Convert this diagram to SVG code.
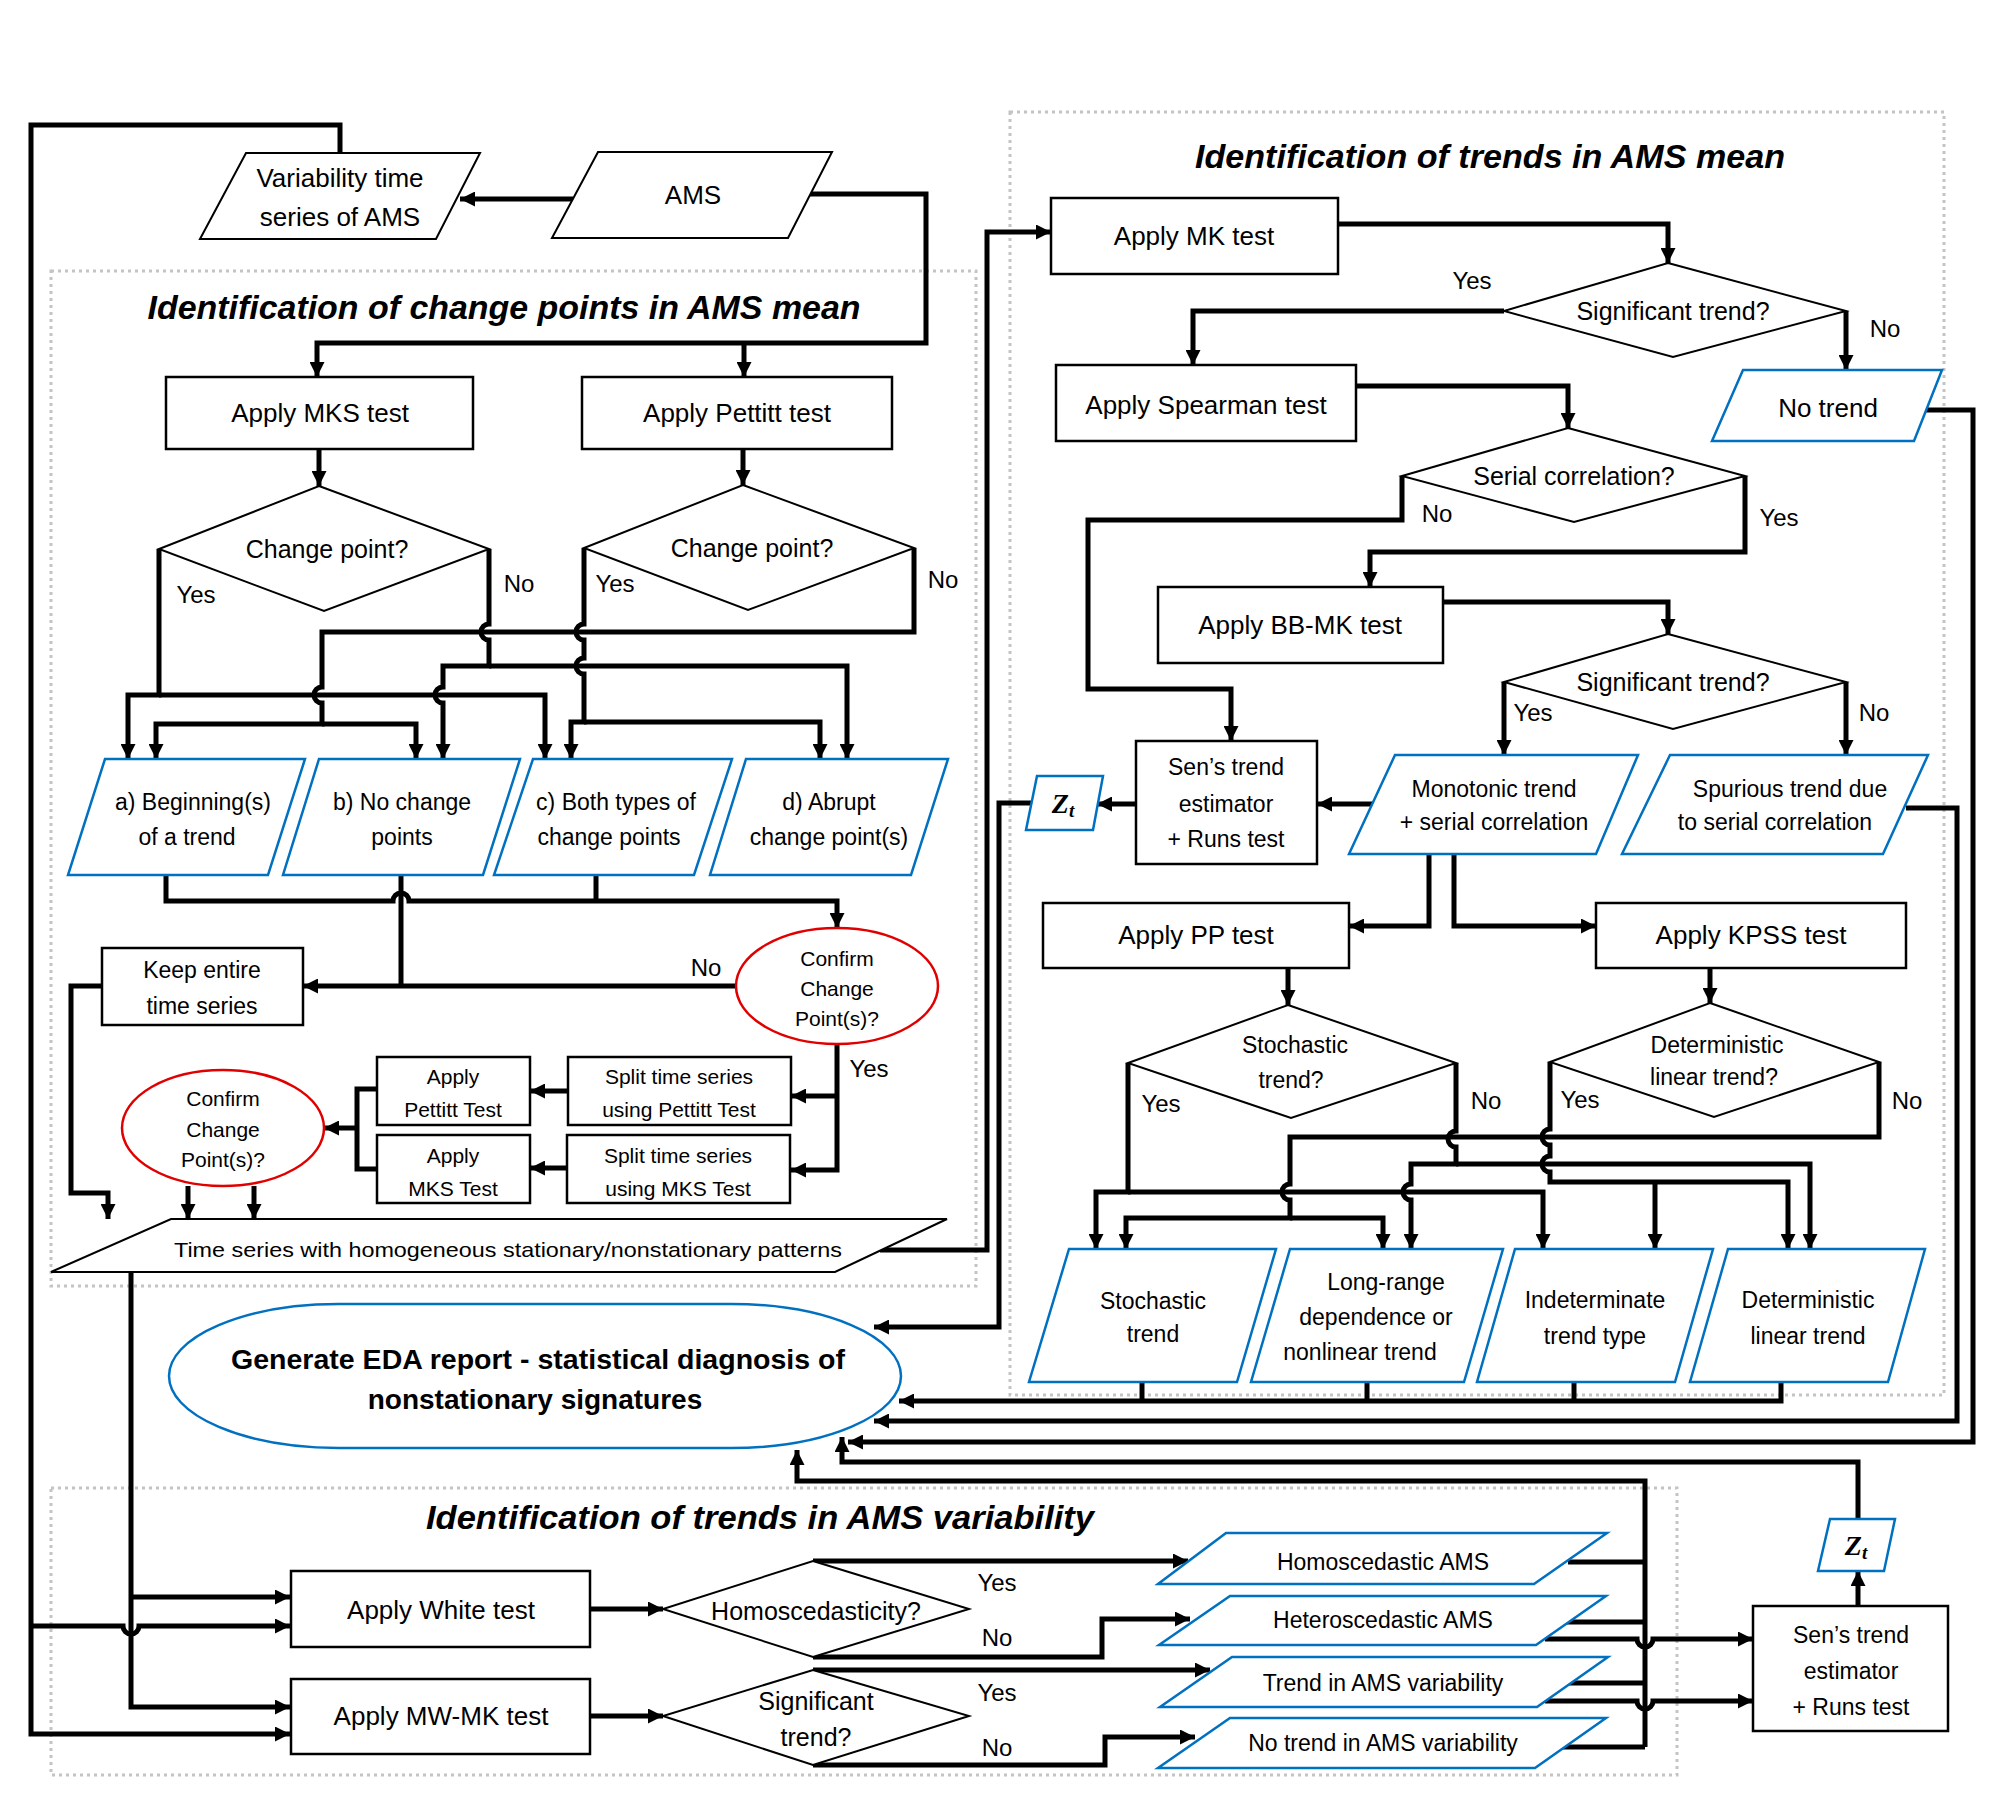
<svg xmlns="http://www.w3.org/2000/svg" width="2000" height="1811" viewBox="0 0 2000 1811">
<defs>
<marker id="ah" viewBox="0 0 10 10" refX="10" refY="5" markerWidth="15" markerHeight="15" markerUnits="userSpaceOnUse" orient="auto"><path d="M0,0 L10,5 L0,10 z" fill="#000"/></marker>
<style>
text{font-family:"Liberation Sans",Arial,sans-serif;fill:#000;text-anchor:middle;dominant-baseline:central}
.box{fill:#fff;stroke:#000;stroke-width:2.5}
.io{fill:#fff;stroke:#000;stroke-width:2}
.blue{fill:#fff;stroke:#0070C0;stroke-width:2.5}
.red{fill:#fff;stroke:#E00000;stroke-width:2.5}
.dot{fill:none;stroke:#c4c4c4;stroke-width:3;stroke-dasharray:3,4}
.t26{font-size:26px}.t23{font-size:23px}.t21{font-size:21px}.t25{font-size:25px}
.title{font-size:33px;font-weight:bold;font-style:italic}
.lab{font-size:24px}
#conn path{fill:none;stroke:#000;stroke-width:5}
.ar{marker-end:url(#ah)}
.z{font-family:"Liberation Serif",serif;font-weight:bold;font-style:italic;font-size:28px}
</style>
</defs>
<rect width="2000" height="1811" fill="#fff"/>
<g id="frames">
<rect class="dot" x="51" y="271" width="925" height="1015"/>
<rect class="dot" x="1010" y="112" width="934" height="1283"/>
<rect class="dot" x="51" y="1488" width="1626" height="287"/>
<text class="title" x="504" y="307" textLength="713" lengthAdjust="spacingAndGlyphs">Identification of change points in AMS mean</text>
<text class="title" x="1490" y="156" textLength="590" lengthAdjust="spacingAndGlyphs">Identification of trends in AMS mean</text>
<text class="title" x="760" y="1517" textLength="668" lengthAdjust="spacingAndGlyphs">Identification of trends in AMS variability</text>
</g>
<g id="conn">
<path d="M340,153 V125 H31 V1734 H290" class="ar"/>
<path d="M31,1626 H123 A8 8 0 0 0 139,1626 H290" class="ar"/>
<path d="M131,1272 V1707 H290" class="ar"/>
<path d="M131,1597 H290" class="ar"/>
<path d="M573,199 H460" class="ar"/>
<path d="M810,194 H926 V343 H317 V377" class="ar"/>
<path d="M744,343 V377" class="ar"/>
<path d="M319,449 V486" class="ar"/>
<path d="M743,449 V485" class="ar"/>
<path d="M159,549 V695 H128 V759" class="ar"/>
<path d="M159,695 H545 V759" class="ar"/>
<path d="M489,549 V624 A8 8 0 0 0 489,640 V666 H443 V687 A8 8 0 0 0 443,703 V759" class="ar"/>
<path d="M489,666 H847 V759" class="ar"/>
<path d="M914,548 V632 H322 V687 A8 8 0 0 0 322,703 V724 H156 V759" class="ar"/>
<path d="M322,724 H416 V759" class="ar"/>
<path d="M584,548 V624 A8 8 0 0 0 584,640 V658 A8 8 0 0 0 584,674 V722 H571 V759" class="ar"/>
<path d="M584,722 H820 V759" class="ar"/>
<path d="M166,875 V901 H393 A8 8 0 0 1 409,901 H837 V928" class="ar"/>
<path d="M596,875 V901"/>
<path d="M401,875 V986"/>
<path d="M737,986 H303" class="ar"/>
<path d="M102,986 H71 V1193 H108 V1219" class="ar"/>
<path d="M837,1044 V1170 H791" class="ar"/>
<path d="M837,1096 H791" class="ar"/>
<path d="M567,1091 H530" class="ar"/>
<path d="M567,1168 H530" class="ar"/>
<path d="M377,1089 H357 V1169 H377"/>
<path d="M357,1128 H324" class="ar"/>
<path d="M188,1186 V1219" class="ar"/>
<path d="M254,1186 V1219" class="ar"/>
<path d="M880,1250 H987 V232 H1051" class="ar"/>
<path d="M1338,224 H1668 V263" class="ar"/>
<path d="M1504,311 H1193 V365" class="ar"/>
<path d="M1846,311 V370" class="ar"/>
<path d="M1356,386 H1568 V428" class="ar"/>
<path d="M1402,476 V520 H1088 V689 H1231 V741" class="ar"/>
<path d="M1745,476 V552 H1370 V587" class="ar"/>
<path d="M1443,602 H1668 V634" class="ar"/>
<path d="M1504,682 V755" class="ar"/>
<path d="M1846,682 V755" class="ar"/>
<path d="M1373,804 H1317" class="ar"/>
<path d="M1136,804 H1097" class="ar"/>
<path d="M1031,803 H999 V1327 H874" class="ar"/>
<path d="M1429,854 V926 H1349" class="ar"/>
<path d="M1454,854 V926 H1596" class="ar"/>
<path d="M1288,968 V1005" class="ar"/>
<path d="M1710,968 V1003" class="ar"/>
<path d="M1128,1063 V1192 H1096 V1249" class="ar"/>
<path d="M1128,1192 H1543 V1249" class="ar"/>
<path d="M1456,1063 V1131 A8 8 0 0 0 1456,1147 V1164 H1411 V1184 A8 8 0 0 0 1411,1200 V1249" class="ar"/>
<path d="M1456,1164 H1810 V1249" class="ar"/>
<path d="M1879,1062 V1137 H1290 V1184 A8 8 0 0 0 1290,1200 V1218 H1126 V1249" class="ar"/>
<path d="M1290,1218 H1383 V1249" class="ar"/>
<path d="M1550,1062 V1129 A8 8 0 0 0 1550,1145 V1156 A8 8 0 0 0 1550,1172 V1182 H1788 V1249" class="ar"/>
<path d="M1655,1182 V1249" class="ar"/>
<path d="M1142,1382 V1401"/>
<path d="M1367,1382 V1401"/>
<path d="M1574,1382 V1401"/>
<path d="M1781,1382 V1401 H899" class="ar"/>
<path d="M1906,808 H1957 V1421 H874" class="ar"/>
<path d="M1925,410 H1973 V1442 H848" class="ar"/>
<path d="M1858,1519 V1462 H842 V1437" class="ar"/>
<path d="M1645,1747 V1481 H797 V1450" class="ar"/>
<path d="M590,1609 H663" class="ar"/>
<path d="M590,1716 H663" class="ar"/>
<path d="M813,1561 H1188" class="ar"/>
<path d="M813,1657 H1102 V1619 H1190" class="ar"/>
<path d="M813,1670 H1210" class="ar"/>
<path d="M813,1765 H1105 V1737 H1195" class="ar"/>
<path d="M1568,1562 H1645"/>
<path d="M1564,1622 H1645"/>
<path d="M1568,1683 H1645"/>
<path d="M1560,1747 H1645"/>
<path d="M1545,1639 H1637 A8 8 0 0 0 1653,1639 H1753" class="ar"/>
<path d="M1545,1701 H1637 A8 8 0 0 0 1653,1701 H1753" class="ar"/>
<path d="M1858,1606 V1571" class="ar"/>
</g>
<g id="labels">
<text class="lab" x="196" y="594">Yes</text><text class="lab" x="519" y="583">No</text>
<text class="lab" x="615" y="583">Yes</text><text class="lab" x="943" y="579">No</text>
<text class="lab" x="706" y="967">No</text><text class="lab" x="869" y="1068">Yes</text>
<text class="lab" x="1472" y="280">Yes</text><text class="lab" x="1885" y="328">No</text>
<text class="lab" x="1437" y="513">No</text><text class="lab" x="1779" y="517">Yes</text>
<text class="lab" x="1533" y="712">Yes</text><text class="lab" x="1874" y="712">No</text>
<text class="lab" x="1161" y="1103">Yes</text><text class="lab" x="1486" y="1100">No</text>
<text class="lab" x="1580" y="1099">Yes</text><text class="lab" x="1907" y="1100">No</text>
<text class="lab" x="997" y="1582">Yes</text><text class="lab" x="997" y="1637">No</text>
<text class="lab" x="997" y="1692">Yes</text><text class="lab" x="997" y="1747">No</text>
</g>
<g id="n-var"><polygon class="io" points="246,153 480,153 436,239 200,239"/><text class="t26" x="340" y="178">Variability time</text><text class="t26" x="340" y="217">series of AMS</text></g>
<g id="n-ams"><polygon class="io" points="598,152 832,152 788,238 552,238"/><text class="t26" x="693" y="195">AMS</text></g>
<g id="n-mks"><rect class="box" x="166" y="377" width="307" height="72"/><text class="t26" x="320" y="413">Apply MKS test</text></g>
<g id="n-pet"><rect class="box" x="582" y="377" width="310" height="72"/><text class="t26" x="737" y="413">Apply Pettitt test</text></g>
<g id="n-d1"><polygon class="io" points="319,486 489,549 324,611 159,549"/><text class="t25" x="327" y="549">Change point?</text></g>
<g id="n-d2"><polygon class="io" points="743,485 914,548 748,610 584,548"/><text class="t25" x="752" y="548">Change point?</text></g>
<g id="n-a"><polygon class="blue" points="105,759 305,759 268,875 68,875"/><text class="t23" x="193" y="802">a) Beginning(s)</text><text class="t23" x="187" y="837">of a trend</text></g>
<g id="n-b"><polygon class="blue" points="319,759 520,759 483,875 283,875"/><text class="t23" x="402" y="802">b) No change</text><text class="t23" x="402" y="837">points</text></g>
<g id="n-c"><polygon class="blue" points="533,759 732,759 694,875 494,875"/><text class="t23" x="616" y="802">c) Both types of</text><text class="t23" x="609" y="837">change points</text></g>
<g id="n-d"><polygon class="blue" points="746,759 948,759 911,875 710,875"/><text class="t23" x="829" y="802">d) Abrupt</text><text class="t23" x="829" y="837">change point(s)</text></g>
<g id="n-conf1"><ellipse class="red" cx="837" cy="986" rx="101" ry="58"/><text class="t21" x="837" y="958">Confirm</text><text class="t21" x="837" y="988">Change</text><text class="t21" x="837" y="1018">Point(s)?</text></g>
<g id="n-keep"><rect class="box" x="102" y="948" width="201" height="77"/><text class="t23" x="202" y="970">Keep entire</text><text class="t23" x="202" y="1006">time series</text></g>
<g id="n-splitp"><rect class="box" x="568" y="1057" width="223" height="68"/><text class="t21" x="679" y="1076">Split time series</text><text class="t21" x="679" y="1109">using Pettitt Test</text></g>
<g id="n-splitm"><rect class="box" x="567" y="1135" width="223" height="68"/><text class="t21" x="678" y="1155">Split time series</text><text class="t21" x="678" y="1188">using MKS Test</text></g>
<g id="n-app"><rect class="box" x="377" y="1057" width="153" height="68"/><text class="t21" x="453" y="1076">Apply</text><text class="t21" x="453" y="1109">Pettitt Test</text></g>
<g id="n-amk"><rect class="box" x="377" y="1135" width="153" height="68"/><text class="t21" x="453" y="1155">Apply</text><text class="t21" x="453" y="1188">MKS Test</text></g>
<g id="n-conf2"><ellipse class="red" cx="223" cy="1128" rx="101" ry="58"/><text class="t21" x="223" y="1098">Confirm</text><text class="t21" x="223" y="1129">Change</text><text class="t21" x="223" y="1159">Point(s)?</text></g>
<g id="n-ts"><polygon class="io" points="171,1219 947,1219 835,1272 51,1272"/><text x="508" y="1249" font-size="21" textLength="668" lengthAdjust="spacingAndGlyphs">Time series with homogeneous stationary/nonstationary patterns</text></g>
<g id="n-eda"><rect x="169" y="1304" width="732" height="144" rx="170" ry="72" fill="#fff" stroke="#0070C0" stroke-width="2.5"/><text x="538" y="1359" font-size="28" font-weight="bold" textLength="614" lengthAdjust="spacingAndGlyphs">Generate EDA report - statistical diagnosis of</text><text x="535" y="1399" font-size="28" font-weight="bold">nonstationary signatures</text></g>
<g id="n-mk"><rect class="box" x="1051" y="198" width="287" height="76"/><text class="t26" x="1194" y="236">Apply MK test</text></g>
<g id="n-s1"><polygon class="io" points="1668,263 1846,311 1673,357 1504,311"/><text class="t25" x="1673" y="311">Significant trend?</text></g>
<g id="n-notrend"><polygon class="blue" points="1743,370 1942,370 1914,441 1712,441"/><text class="t26" x="1828" y="408">No trend</text></g>
<g id="n-sp"><rect class="box" x="1056" y="365" width="300" height="76"/><text class="t26" x="1206" y="405">Apply Spearman test</text></g>
<g id="n-ser"><polygon class="io" points="1568,428 1745,476 1574,522 1402,476"/><text class="t25" x="1574" y="476">Serial correlation?</text></g>
<g id="n-bb"><rect class="box" x="1158" y="587" width="285" height="76"/><text class="t26" x="1300" y="625">Apply BB-MK test</text></g>
<g id="n-s2"><polygon class="io" points="1668,634 1846,682 1673,729 1504,682"/><text class="t25" x="1673" y="682">Significant trend?</text></g>
<g id="n-mono"><polygon class="blue" points="1395,755 1638,755 1596,854 1349,854"/><text class="t23" x="1494" y="789">Monotonic trend</text><text class="t23" x="1494" y="822">+ serial correlation</text></g>
<g id="n-spur"><polygon class="blue" points="1670,755 1928,755 1883,854 1622,854"/><text class="t23" x="1790" y="789">Spurious trend due</text><text class="t23" x="1775" y="822">to serial correlation</text></g>
<g id="n-sen1"><rect class="box" x="1136" y="741" width="181" height="123"/><text class="t23" x="1226" y="767">Sen’s trend</text><text class="t23" x="1226" y="804">estimator</text><text class="t23" x="1226" y="839">+ Runs test</text></g>
<g id="n-zt1"><polygon class="blue" points="1037,776 1103,776 1093,830 1026,830"/><text class="z" x="1063" y="803">Z<tspan font-size="19" dy="7">t</tspan></text></g>
<g id="n-pp"><rect class="box" x="1043" y="903" width="306" height="65"/><text class="t26" x="1196" y="935">Apply PP test</text></g>
<g id="n-kpss"><rect class="box" x="1596" y="903" width="310" height="65"/><text class="t26" x="1751" y="935">Apply KPSS test</text></g>
<g id="n-sto"><polygon class="io" points="1288,1005 1456,1063 1291,1118 1128,1063"/><text class="t23" x="1295" y="1045">Stochastic</text><text class="t23" x="1291" y="1080">trend?</text></g>
<g id="n-det"><polygon class="io" points="1710,1003 1879,1062 1714,1117 1550,1062"/><text class="t23" x="1717" y="1045">Deterministic</text><text class="t23" x="1714" y="1077">linear trend?</text></g>
<g id="n-stt"><polygon class="blue" points="1069,1249 1276,1249 1237,1382 1029,1382"/><text class="t23" x="1153" y="1301">Stochastic</text><text class="t23" x="1153" y="1334">trend</text></g>
<g id="n-lr"><polygon class="blue" points="1290,1249 1503,1249 1464,1382 1251,1382"/><text class="t23" x="1386" y="1282">Long-range</text><text class="t23" x="1376" y="1317">dependence or</text><text class="t23" x="1360" y="1352">nonlinear trend</text></g>
<g id="n-ind"><polygon class="blue" points="1515,1249 1713,1249 1675,1382 1477,1382"/><text class="t23" x="1595" y="1300">Indeterminate</text><text class="t23" x="1595" y="1336">trend type</text></g>
<g id="n-dlt"><polygon class="blue" points="1728,1249 1925,1249 1888,1382 1690,1382"/><text class="t23" x="1808" y="1300">Deterministic</text><text class="t23" x="1808" y="1336">linear trend</text></g>
<g id="n-white"><rect class="box" x="291" y="1571" width="299" height="76"/><text class="t26" x="441" y="1610">Apply White test</text></g>
<g id="n-mwmk"><rect class="box" x="291" y="1679" width="299" height="75"/><text class="t26" x="441" y="1716">Apply MW-MK test</text></g>
<g id="n-homo"><polygon class="io" points="813,1561 969,1609 813,1657 663,1609"/><text class="t25" x="816" y="1611">Homoscedasticity?</text></g>
<g id="n-sig3"><polygon class="io" points="813,1670 969,1716 813,1765 663,1716"/><text class="t25" x="816" y="1701">Significant</text><text class="t25" x="816" y="1737">trend?</text></g>
<g id="n-hom"><polygon class="blue" points="1226,1533 1607,1533 1534,1584 1158,1584"/><text class="t23" x="1383" y="1562">Homoscedastic AMS</text></g>
<g id="n-het"><polygon class="blue" points="1230,1596 1606,1596 1536,1645 1159,1645"/><text class="t23" x="1383" y="1620">Heteroscedastic AMS</text></g>
<g id="n-trv"><polygon class="blue" points="1232,1657 1608,1657 1537,1707 1160,1707"/><text class="t23" x="1383" y="1683">Trend in AMS variability</text></g>
<g id="n-ntv"><polygon class="blue" points="1230,1718 1606,1718 1535,1768 1158,1768"/><text class="t23" x="1383" y="1743">No trend in AMS variability</text></g>
<g id="n-sen2"><rect class="box" x="1753" y="1606" width="195" height="125"/><text class="t23" x="1851" y="1635">Sen’s trend</text><text class="t23" x="1851" y="1671">estimator</text><text class="t23" x="1851" y="1707">+ Runs test</text></g>
<g id="n-zt2"><polygon class="blue" points="1830,1519 1895,1519 1884,1571 1818,1571"/><text class="z" x="1856" y="1545">Z<tspan font-size="19" dy="7">t</tspan></text></g>
</svg>
